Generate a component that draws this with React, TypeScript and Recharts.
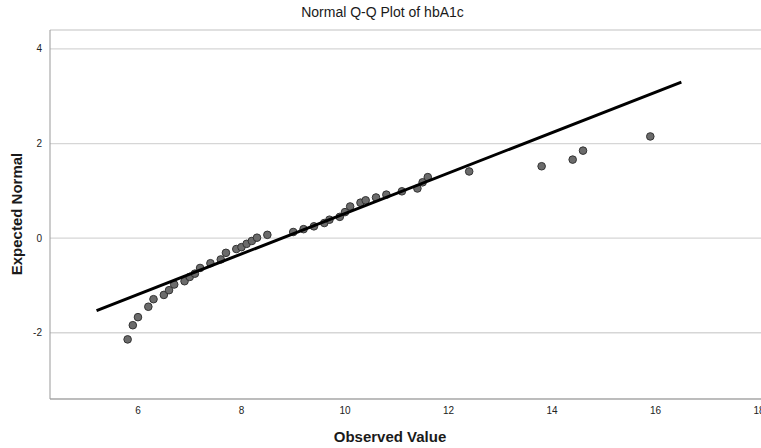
import { ScatterChart, Scatter, XAxis, YAxis, CartesianGrid } from "recharts";

// observed hbA1c values (x) and their expected normal scores (y)
const observed = [
  5.8, 5.9, 6.0, 6.2, 6.3, 6.5, 6.6, 6.7, 6.9, 7.0, 7.1, 7.2, 7.4, 7.6, 7.7,
  7.9, 8.0, 8.1, 8.2, 8.3, 8.5, 9.0, 9.2, 9.4, 9.6, 9.7, 9.9, 10.0, 10.1, 10.3,
  10.4, 10.6, 10.8, 11.1, 11.4, 11.5, 11.6, 12.4, 13.8, 14.4, 14.6, 15.9,
];
const expected = [
  -2.14, -1.84, -1.67, -1.45, -1.29, -1.2, -1.1, -0.98, -0.91, -0.82, -0.75,
  -0.63, -0.53, -0.45, -0.31, -0.23, -0.19, -0.12, -0.06, 0.01, 0.07, 0.13,
  0.19, 0.25, 0.32, 0.39, 0.45, 0.55, 0.67, 0.75, 0.8, 0.86, 0.92, 0.99, 1.05,
  1.18, 1.29, 1.41, 1.52, 1.66, 1.85, 2.15,
];

// reference line end points
const refX = [5.2, 16.5];
const refY = [-1.53, 3.3];

const xTicks = [6, 8, 10, 12, 14, 16, 18];
const yTicks = [-2, 0, 2, 4];

const FONT = "Arial, 'Liberation Sans', sans-serif";

const points = observed.map((x, i) => ({ x, y: expected[i] }));
const refLine = refX.map((x, i) => ({ x, y: refY[i] }));

const Dot = (props: any) => (
  <circle cx={props.cx} cy={props.cy} r={3.8} fill="#6b6b6b" stroke="#333" strokeWidth={1} />
);

const NoDot = () => null;

const XTitle = () => (
  <text x={390} y={442} textAnchor="middle" fontFamily={FONT} fontSize={15} fontWeight="bold" fill="#1a1a1a">
    Observed Value
  </text>
);

const YTitle = () => (
  <text
    x={22}
    y={214}
    textAnchor="middle"
    transform="rotate(-90, 22, 214)"
    fontFamily={FONT}
    fontSize={15}
    fontWeight="bold"
    fill="#1a1a1a"
  >
    Expected Normal
  </text>
);

export default function App() {
  return (
    <div
      style={{
        position: "absolute",
        left: 0,
        top: 0,
        width: 761,
        height: 448,
        overflow: "hidden",
        background: "#fff",
      }}
    >
      <div
        style={{
          position: "absolute",
          left: 0,
          width: 761,
          top: 4,
          textAlign: "center",
          fontFamily: FONT,
          fontSize: 14,
          color: "#1a1a1a",
          paddingLeft: 2,
        }}
      >
        Normal Q-Q Plot of hbA1c
      </div>
      <ScatterChart width={800} height={448} margin={{ top: 30, right: 25.5, bottom: 19, left: 0 }}>
        <CartesianGrid vertical={false} stroke="#d6d6d6" strokeWidth={1.3} />
        <XAxis
          type="number"
          dataKey="x"
          domain={[4.3, 18.3]}
          ticks={xTicks}
          height={30}
          stroke="#999"
          tickLine={false}
          tick={{ fontSize: 10, fill: "#222", fontFamily: FONT }}
          label={<XTitle />}
        />
        <YAxis
          type="number"
          dataKey="y"
          domain={[-3.4, 4.4]}
          ticks={yTicks}
          width={50}
          stroke="#999"
          tickLine={false}
          tick={{ fontSize: 10, fill: "#222", fontFamily: FONT }}
          label={<YTitle />}
        />
        <Scatter data={points} shape={Dot} isAnimationActive={false} />
        <Scatter
          data={refLine}
          shape={NoDot}
          line={{ stroke: "#000", strokeWidth: 3 }}
          isAnimationActive={false}
        />
      </ScatterChart>
    </div>
  );
}
